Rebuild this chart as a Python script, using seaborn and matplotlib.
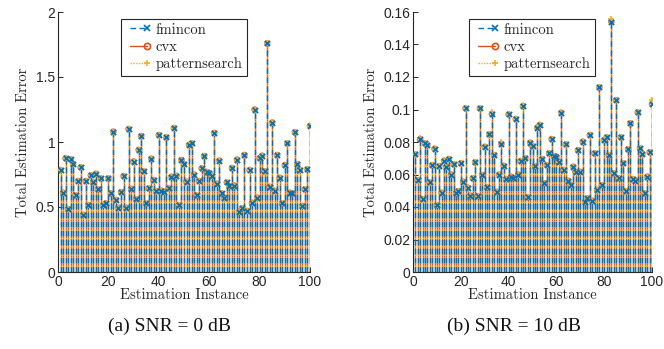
import numpy as np
import pandas as pd
import matplotlib
matplotlib.use("Agg")
import matplotlib.pyplot as plt
from matplotlib.lines import Line2D
from matplotlib.legend_handler import HandlerLine2D
import seaborn as sns

# ---------------- data ----------------
instances = list(range(1, 101))

err_snr0 = [
    0.785, 0.61, 0.875, 0.485, 0.867, 0.83, 0.59, 0.70, 0.805, 0.44,
    0.70, 0.515, 0.744, 0.69, 0.756, 0.636, 0.72, 0.515, 0.528, 0.72,
    0.605, 1.08, 0.554, 0.495, 0.615, 0.738, 0.495, 1.10, 0.64, 0.85,
    0.56, 0.94, 1.046, 0.775, 0.528, 0.643, 0.872, 0.708, 0.623, 1.054,
    0.625, 0.618, 1.036, 0.643, 0.733, 1.108, 0.74, 0.515, 0.862, 0.83,
    0.695, 0.977, 0.99, 0.75, 0.59, 0.70, 0.797, 0.892, 0.77, 0.76,
    0.74, 1.07, 0.68, 0.857, 0.605, 0.572, 0.69, 0.66, 0.80, 0.665,
    0.865, 0.464, 0.49, 0.90, 0.47, 0.785, 0.533, 1.25, 0.572, 0.877,
    0.895, 0.775, 1.76, 0.656, 1.15, 0.625, 0.90, 0.725, 0.528, 0.823,
    0.99, 0.61, 0.605, 1.075, 0.83, 0.785, 0.508, 0.636, 0.79, 1.125,
]

err_snr10 = [
    0.0724, 0.0566, 0.0817, 0.0449, 0.0792, 0.0780, 0.0552, 0.0658, 0.0759, 0.0412,
    0.0652, 0.0488, 0.0685, 0.0648, 0.0695, 0.0600, 0.0663, 0.0484, 0.0498, 0.0669,
    0.0556, 0.1007, 0.0519, 0.0470, 0.0577, 0.0675, 0.0468, 0.1007, 0.0597, 0.0771,
    0.0521, 0.0847, 0.0972, 0.0720, 0.0494, 0.0600, 0.0788, 0.0654, 0.0572, 0.0970,
    0.0587, 0.0577, 0.0942, 0.0600, 0.0683, 0.1022, 0.0700, 0.0460, 0.0796, 0.0775,
    0.0652, 0.0888, 0.0905, 0.0695, 0.0546, 0.0658, 0.0730, 0.0818, 0.0714, 0.0710,
    0.0679, 0.0980, 0.0628, 0.0786, 0.0562, 0.0535, 0.0648, 0.0617, 0.0750, 0.0617,
    0.0802, 0.0433, 0.0453, 0.0843, 0.0439, 0.0730, 0.0505, 0.1136, 0.0535, 0.0812,
    0.0829, 0.0720, 0.1540, 0.0607, 0.1058, 0.0577, 0.0829, 0.0669, 0.0498, 0.0755,
    0.0915, 0.0572, 0.0562, 0.0983, 0.0761, 0.0726, 0.0484, 0.0587, 0.0737, 0.1034,
]

# patternsearch deviates slightly at a few instances (SNR = 10 dB)
ps_snr10 = list(err_snr10)
ps_snr10[2] = 0.0825
ps_snr10[32] = 0.0985
ps_snr10[36] = 0.0800
ps_snr10[82] = 0.1555
ps_snr10[99] = 0.1060

methods = ["fmincon", "cvx", "patternsearch"]
panels = [
    {"fmincon": err_snr0, "cvx": err_snr0, "patternsearch": err_snr0},
    {"fmincon": err_snr10, "cvx": err_snr10, "patternsearch": ps_snr10},
]
captions = ["(a) SNR = 0 dB", "(b) SNR = 10 dB"]
ylims = [(0, 2), (0, 0.16)]
yticks = [[0, 0.5, 1, 1.5, 2], [0, 0.02, 0.04, 0.06, 0.08, 0.1, 0.12, 0.14, 0.16]]
ytick_labels = [["0", "0.5", "1", "1.5", "2"],
                ["0", "0.02", "0.04", "0.06", "0.08", "0.1", "0.12", "0.14", "0.16"]]
xticks = [0, 20, 40, 60, 80, 100]

# ---------------- style ----------------
sns.set_theme(style="ticks")
plt.rcParams["font.family"] = ["Liberation Sans", "DejaVu Sans"]
plt.rcParams["xtick.direction"] = "in"
plt.rcParams["ytick.direction"] = "in"

colors = {"fmincon": "#0072BD", "cvx": "#D95319", "patternsearch": "#EDB120"}
lstyles = {"fmincon": (0, (4, 2.5)), "cvx": "solid", "patternsearch": (0, (1, 1))}
markers = {"fmincon": "x", "cvx": "o", "patternsearch": "+"}
draw_order = ["cvx", "patternsearch", "fmincon"]

serif = "cmr10"


class EndMarkerHandler(HandlerLine2D):
    """Legend entry with the line sample and the marker at its right end."""
    def create_artists(self, *args, **kwargs):
        arts = super().create_artists(*args, **kwargs)
        for a in arts:
            if isinstance(a, Line2D):
                n = len(a.get_xdata())
                a.set_markevery([n - 1])
        return arts


fig = plt.figure(figsize=(6.64, 3.49), dpi=100)
axes_rects = [[58 / 664, 77 / 349, 252 / 664, 260 / 349],
              [413 / 664, 77 / 349, 239 / 664, 260 / 349]]
legend_left = [0.25, 0.234]
caption_x = [169 / 664, 514 / 664]

for i, rect in enumerate(axes_rects):
    ax = fig.add_axes(rect)
    data = panels[i]
    for m in draw_order:
        ax.vlines(instances, 0, data[m], colors=colors[m], linestyles=lstyles[m],
                  linewidth=1.0, zorder=2)
    for m in draw_order:
        df = pd.DataFrame({"x": instances, "y": data[m]})
        if markers[m] == "o":
            sns.scatterplot(data=df, x="x", y="y", ax=ax, marker="o", s=13,
                            facecolor="none", edgecolor=colors[m], linewidth=1.1,
                            alpha=0.8, zorder=3, legend=False)
        else:
            sns.scatterplot(data=df, x="x", y="y", ax=ax, marker=markers[m], s=14,
                            color=colors[m], linewidth=1.2, zorder=4, legend=False)
    ax.set_xlim(0, 100)
    ax.set_ylim(*ylims[i])
    ax.set_xticks(xticks)
    ax.set_xticklabels([str(t) for t in xticks], fontsize=10)
    ax.set_yticks(yticks[i])
    ax.set_yticklabels(ytick_labels[i], fontsize=10)
    ax.tick_params(length=3.5, width=0.7, colors="#262626", pad=2)
    for s in ["top", "right"]:
        ax.spines[s].set_visible(False)
    for s in ["left", "bottom"]:
        ax.spines[s].set_linewidth(0.8)
        ax.spines[s].set_color("#262626")
    ax.set_xlabel("Estimation Instance", fontfamily=serif, fontsize=10.5,
                  color="#262626", labelpad=0)
    ax.set_ylabel("Total Estimation Error", fontfamily=serif, fontsize=10.5,
                  color="#262626", labelpad=4)

    handles = [Line2D([0, 1], [0, 0], color=colors[m], linestyle=lstyles[m],
                      linewidth=1.0, marker=markers[m], markersize=4.5,
                      markerfacecolor="none" if m == "cvx" else colors[m],
                      markeredgewidth=1.2)
               for m in methods]
    leg = ax.legend(handles, methods, loc="upper left",
                    bbox_to_anchor=(legend_left[i], 0.975), numpoints=2,
                    handler_map={Line2D: EndMarkerHandler()},
                    prop={"family": serif, "size": 10.5}, frameon=True,
                    fancybox=False, edgecolor="#262626", framealpha=1,
                    handlelength=1.8, handletextpad=0.3, borderpad=0.3,
                    labelspacing=0.25, borderaxespad=0)
    leg.get_frame().set_linewidth(0.8)

    fig.text(caption_x[i], 1 - 326 / 349, captions[i], ha="center", va="center",
             fontfamily=["Liberation Serif", "DejaVu Serif"], fontsize=14,
             color="#111111")

fig.savefig("out.png", dpi=100)
